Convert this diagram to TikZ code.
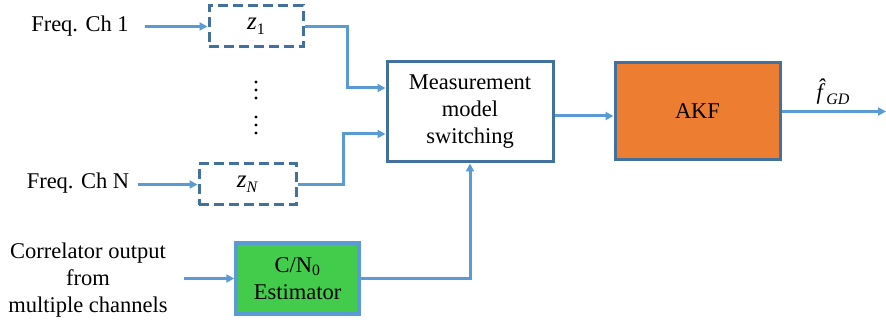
\documentclass[tikz,border=0pt]{standalone}
\usepackage{fontspec}
\setmainfont{Liberation Serif}
\usetikzlibrary{arrows.meta}
\definecolor{edge}{HTML}{41719C}
\definecolor{arr}{HTML}{5B9BD5}
\definecolor{akfc}{HTML}{ED7D31}
\definecolor{estc}{HTML}{43CB4B}
\tikzset{
  lbl/.style={font=\fontsize{22.5}{27}\selectfont, align=center, inner sep=0pt},
  dot/.style={circle, fill=black, inner sep=0pt, minimum size=3.2pt},
  zbox/.style={draw=edge, line width=3pt, dash pattern=on 10pt off 5pt, minimum width=#1, minimum height=41pt, inner sep=0pt, font=\fontsize{22.5}{27}\selectfont},
  blk/.style={draw=edge, line width=3pt, inner sep=0pt, align=center, font=\fontsize{22.5}{27}\selectfont},
  link/.style={draw=arr, line width=3pt, -{Triangle[length=8pt,width=8pt]}},
}
\begin{document}
\begin{tikzpicture}[x=1pt,y=-1pt]
\useasboundingbox (0,0) rectangle (886,323);
% blocks
\node[zbox=94pt] (z1) at (256,26.5) {\fontsize{25}{27}\selectfont\textit{z}\raisebox{-5pt}{\fontsize{16}{16}\selectfont 1}};
\node[zbox=97pt] (zN) at (247.5,184.5) {\fontsize{25}{27}\selectfont\textit{z}\raisebox{-5pt}{\fontsize{16}{16}\selectfont\textit{N}}};
\node[blk, fill=white, minimum width=166pt, minimum height=100pt] (mms) at (470,112) {Measurement\\model\\switching};
\node[blk, fill=akfc, minimum width=165pt, minimum height=97pt] (akf) at (697.5,111.5) {AKF};
\node[blk, draw=arr, line width=3.5pt, fill=estc, minimum width=123pt, minimum height=71pt] (est) at (297.5,278.5) {C/N\textsubscript{0}\\Estimator};
% labels
\node[lbl] (ch1) at (80,26) {Freq. Ch 1};
\node[lbl] (chN) at (78,183) {Freq. Ch N};
\node[lbl] (cor) at (88,280) {Correlator output\\from\\multiple channels};
\node[lbl] (fgd) at (833,92) {\textit{\^{f}}\kern-5pt\raisebox{-5pt}{\fontsize{16}{16}\selectfont\textit{GD}}};
% vertical dots
\foreach \i/\y in {1/82,2/90,3/98,4/117,5/125,6/133}
  \node[dot] (d\i) at (256,\y) {};
% connector ends
\coordinate (s1) at (145,26.5);
\coordinate (sN) at (138,184.5);
\coordinate (sC) at (184,278.5);
\coordinate (out) at (886,111.5);
% connectors
\draw[link] (s1) -- (z1.west);
\draw[link] (sN) -- (zN.west);
\draw[link] (sC) -- (est.west);
\draw[link] (z1.east) -- ++(43,0) |- ([yshift=24pt]mms.west);
\draw[link] (zN.east) -- ++(46,0) |- ([yshift=-22pt]mms.west);
\draw[link] (est.east) -| (mms.south);
\draw[link] ([yshift=-4pt]mms.east) -- ([yshift=-4.5pt]akf.west);
\draw[link] (akf.east) -- (out);
\end{tikzpicture}
\end{document}
